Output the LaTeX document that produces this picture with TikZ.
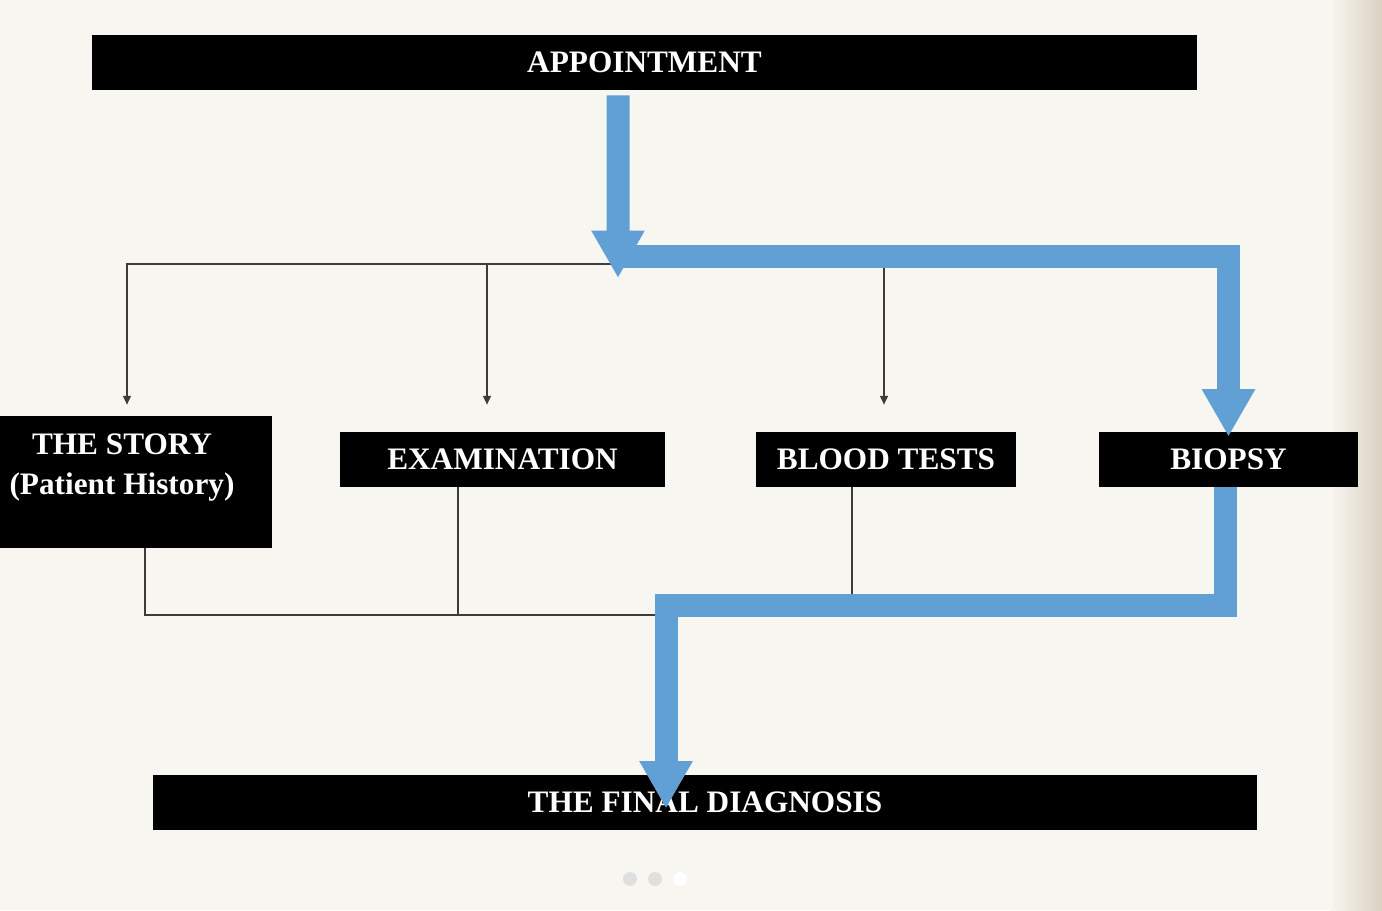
\documentclass[tikz,border=0pt]{standalone}
\usepackage{fontspec}
\setmainfont{Liberation Serif}
\usetikzlibrary{arrows.meta}
\definecolor{papir}{RGB}{248,246,240}
\definecolor{kant}{RGB}{218,208,194}
\definecolor{flowblue}{RGB}{96,160,212}
\definecolor{tynn}{RGB}{60,60,60}
\tikzset{
  boxtext/.style={text=white, inner sep=0pt, font=\bfseries\fontsize{17.8}{23.2}\selectfont},
  blackbox/.style={boxtext, fill=black, minimum height=1.1cm},
  conn/.style={draw=tynn, line width=0.8pt},
  connarrow/.style={conn, -{Triangle[width=4.5pt,length=5pt]}},
  flowarrow/.style={draw=flowblue, line width=0.46cm, -{Triangle[width=1cm,length=0.95cm]}}
}
\begin{document}
\begin{tikzpicture}[x=0.02cm,y=-0.02cm]
  %ramme
	\useasboundingbox (0,0) rectangle (1382,910);
	\clip (0,0) rectangle (1382,910);
	\fill[papir] (0,0) rectangle (1382,910);
	\shade[left color=papir, right color=kant] (1330,0) rectangle (1382,910);

  %bokser
	\node[blackbox, minimum width=22.1cm] (appt) at (644.5,62.5) {APPOINTMENT};
	\node[blackbox, minimum width=6.04cm, minimum height=2.64cm] (story) at (121,482) {};
	\node[boxtext, align=center, anchor=north] (storytext) at (122,433) {THE STORY\\(Patient History)};
	\node[blackbox, minimum width=6.5cm] (exam) at (502.5,459.5) {EXAMINATION};
	\node[blackbox, minimum width=5.2cm] (blood) at (886,459.5) {BLOOD TESTS};
	\node[blackbox, minimum width=5.18cm] (biopsy) at (1228.5,459.5) {BIOPSY};
	\node[blackbox, minimum width=22.08cm] (diag) at (705,802.5) {THE FINAL DIAGNOSIS};

  %tynne linjer ned til boksene
	\coordinate (split) at (618,264);
	\draw[connarrow, shorten >=0.22cm] (split) -| ([xshift=0.12cm]story.north);
	\draw[connarrow, shorten >=0.54cm] ([xshift=-0.31cm]exam.north |- split) -- ([xshift=-0.31cm]exam.north);
	\draw[connarrow, shorten >=0.54cm] ([xshift=-0.04cm]blood.north |- split) -- ([xshift=-0.04cm]blood.north);

  %tynne linjer samlet under boksene
	\coordinate (join) at (660,615);
	\draw[conn] ([xshift=0.48cm]story.south) |- (join);
	\draw[conn] ([xshift=-0.89cm]exam.south) -- ([xshift=-0.89cm]exam.south |- join);
	\draw[conn] ([xshift=-0.68cm]blood.south) -- ([xshift=-0.68cm]blood.south |- join);

  %blå pil
	\coordinate (turn1) at (618,256);
	\coordinate (turn2) at (666,605);
	\draw[flowarrow] ([shift={(-0.53cm,-0.1cm)}]appt.south) -- ([yshift=-0.44cm]turn1);
	\draw[flowarrow] (turn1) -| ([yshift=-0.1cm]biopsy.north);
	\draw[flowarrow] ([xshift=-0.07cm]biopsy.south) |- (turn2) -- ([yshift=-0.12cm]turn2 |- diag.center);

  %prikker
	\fill[gray!25] (630,879) circle (0.14cm);
	\fill[gray!25] (655,879) circle (0.14cm);
	\fill[white] (680,879) circle (0.14cm);
\end{tikzpicture}
\end{document}
